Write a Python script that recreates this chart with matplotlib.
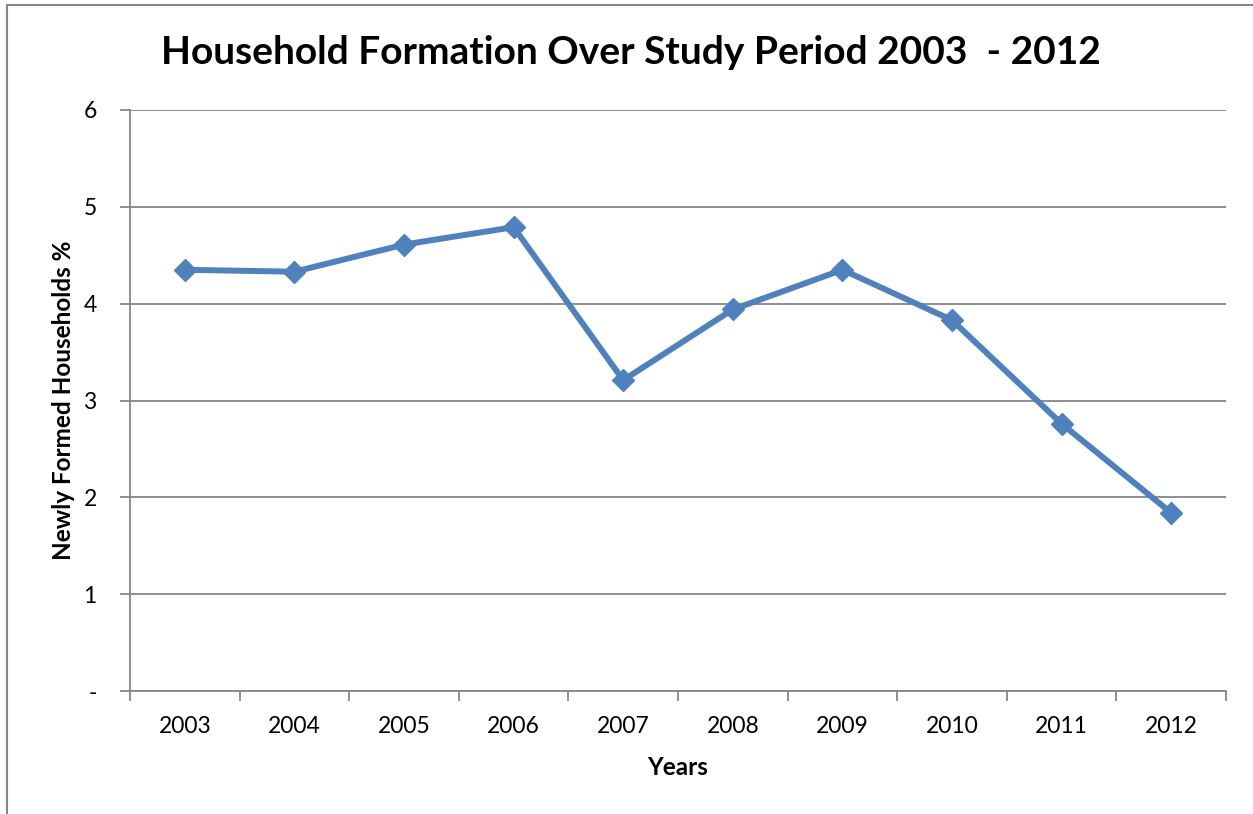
import matplotlib
matplotlib.use('Agg')

import numpy as np
import matplotlib.pyplot as plt
from matplotlib.patches import Rectangle

years = ['2003', '2004', '2005', '2006', '2007', '2008', '2009', '2010', '2011', '2012']
households = [4.35, 4.33, 4.61, 4.79, 3.21, 3.94, 4.35, 3.83, 2.76, 1.84]
y_ticks = [0, 1, 2, 3, 4, 5, 6]
y_labels = ['-', '1', '2', '3', '4', '5', '6']

plt.rcParams['font.family'] = ['Lato', 'DejaVu Sans']

fig = plt.figure(figsize=(12.53, 8.14), dpi=100)
ax = fig.add_axes([130/1253, 123/814, 1096/1253, 581/814])

grey = '#868686'
blue = '#4F81BD'

# outer chart frame (cropped at right and bottom)
fig.patches.append(Rectangle((7/1253, -0.1), 1.2, 1 - 5/814 + 0.1, transform=fig.transFigure,
                             fill=False, edgecolor=grey, linewidth=1.5))

x = np.arange(len(years))
ax.plot(x, households, color=blue, linewidth=4.3, marker='D', markersize=11, zorder=3)

ax.set_xlim(-0.5, len(years) - 0.5)
ax.set_ylim(0, 6)
ax.set_yticks(y_ticks)
ax.set_yticklabels(y_labels, fontsize=16.5)
ax.set_xticks(x)
ax.set_xticklabels(years, fontsize=16.5)
ax.set_xticks(np.arange(-0.5, len(years)), minor=True)
ax.tick_params(axis='x', which='major', length=0, pad=18)
ax.tick_params(axis='x', which='minor', length=7, color=grey, width=1.3, direction='out')
ax.tick_params(axis='y', length=7, color=grey, width=1.3, direction='out', pad=17)

ax.grid(axis='y', color=grey, linewidth=1.3)
ax.set_axisbelow(True)
for s in ['top', 'right']:
    ax.spines[s].set_visible(False)
for s in ['left', 'bottom']:
    ax.spines[s].set_color(grey)
    ax.spines[s].set_linewidth(1.3)

ax.set_xlabel('Years', fontsize=17.5, fontweight='bold', labelpad=14)
ax.set_ylabel('Newly Formed Households %', fontsize=17.5, fontweight='bold', labelpad=6)
fig.text(631/1253, 1 - 52/814, 'Household Formation Over Study Period 2003  - 2012',
         ha='center', va='center', fontsize=28, fontweight='bold')

fig.savefig('out.png', dpi=100)
